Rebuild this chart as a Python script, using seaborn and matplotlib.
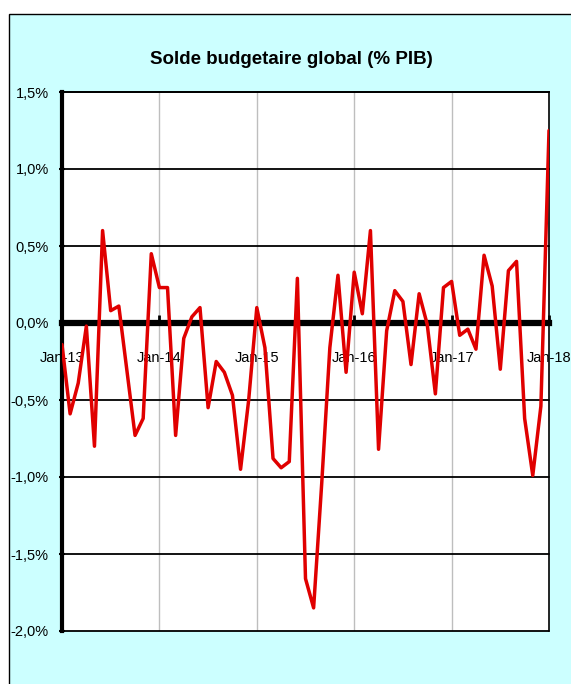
import matplotlib
matplotlib.use("Agg")
import matplotlib.pyplot as plt
import seaborn as sns
import pandas as pd
import numpy as np
from matplotlib.patches import Rectangle

# ---- data (monthly, Jan-13 .. Jan-18), % of GDP ----
solde = [
    -0.14, -0.59, -0.39, -0.02, -0.80, 0.60, 0.08, 0.11, -0.31, -0.73, -0.62, 0.45,
    0.23, 0.23, -0.73, -0.10, 0.04, 0.10, -0.55, -0.25, -0.32, -0.47, -0.95, -0.50,
    0.10, -0.16, -0.88, -0.94, -0.90, 0.29, -1.66, -1.85, -1.04, -0.16, 0.31, -0.32,
    0.33, 0.06, 0.60, -0.82, -0.05, 0.21, 0.14, -0.27, 0.19, -0.01, -0.46, 0.23,
    0.27, -0.08, -0.04, -0.17, 0.44, 0.24, -0.30, 0.34, 0.40, -0.62, -0.99, -0.54,
    1.25,
]
x_labels = ["Jan-13", "Jan-14", "Jan-15", "Jan-16", "Jan-17", "Jan-18"]
y_ticks = [-2.0, -1.5, -1.0, -0.5, 0.0, 0.5, 1.0, 1.5]
y_labels = ["-2,0%", "-1,5%", "-1,0%", "-0,5%", "0,0%", "0,5%", "1,0%", "1,5%"]
title = "Solde budgetaire global (% PIB)"

df = pd.DataFrame({"mois": np.arange(len(solde)), "solde": solde})

sns.set_theme(style="white")
FONT = ["Liberation Sans Narrow", "Liberation Sans", "DejaVu Sans"]
plt.rcParams["font.family"] = FONT

W, H = 571, 684
fig = plt.figure(figsize=(W / 100, H / 100), dpi=100)
fig.patch.set_facecolor("white")

# cyan chart-area frame
fig.patches.append(Rectangle((9 / W, -0.05), 1.1, 1 - 14 / H + 0.05,
                             transform=fig.transFigure, facecolor="#CCFFFF",
                             edgecolor="black", linewidth=1.0, zorder=-5))

ax = fig.add_axes([62 / W, 1 - 631 / H, (549 - 62) / W, (631 - 92) / H])
ax.set_zorder(2)
ax.set_facecolor("white")

sns.lineplot(data=df, x="mois", y="solde", ax=ax, color="#E00000",
             linewidth=2.5, zorder=4)

ax.set_xlim(0, 60)
ax.set_ylim(-2.0, 1.5)

# grid lines
for v in y_ticks:
    ax.axhline(v, color="black", linewidth=1.3, zorder=1, clip_on=False)
for m in range(12, 60, 12):
    ax.axvline(m, color="#BEBEBE", linewidth=1.0, zorder=0.5)

# y axis
ax.set_yticks(y_ticks)
ax.set_yticklabels(y_labels, fontsize=10.5, color="black")
ax.tick_params(axis="y", direction="inout", length=5, width=1.5,
               color="black", left=True, pad=7)

# x axis sits on the zero line
ax.spines["bottom"].set_position(("data", 0))
ax.spines["bottom"].set_linewidth(4.5)
ax.spines["bottom"].set_color("black")
ax.spines["bottom"].set_zorder(3)
ax.set_xticks(np.arange(0, 61, 12))
ax.set_xticklabels(x_labels, fontsize=10.5, color="black")
ax.tick_params(axis="x", direction="in", length=6, width=2, color="black",
               bottom=True, pad=20)

ax.spines["left"].set_linewidth(3.0)
ax.spines["left"].set_color("black")
ax.spines["right"].set_linewidth(1.2)
ax.spines["right"].set_color("black")
ax.spines["top"].set_linewidth(1.3)
ax.spines["top"].set_color("black")
for s in ax.spines.values():
    s.set_visible(True)

ax.set_xlabel("")
ax.set_ylabel("")

fig.text(291 / W, 1 - 60 / H, title, ha="center", va="center",
         fontsize=13.5, fontweight="bold", color="black", family=FONT)

fig.savefig("out.png", dpi=100, facecolor=fig.get_facecolor())
